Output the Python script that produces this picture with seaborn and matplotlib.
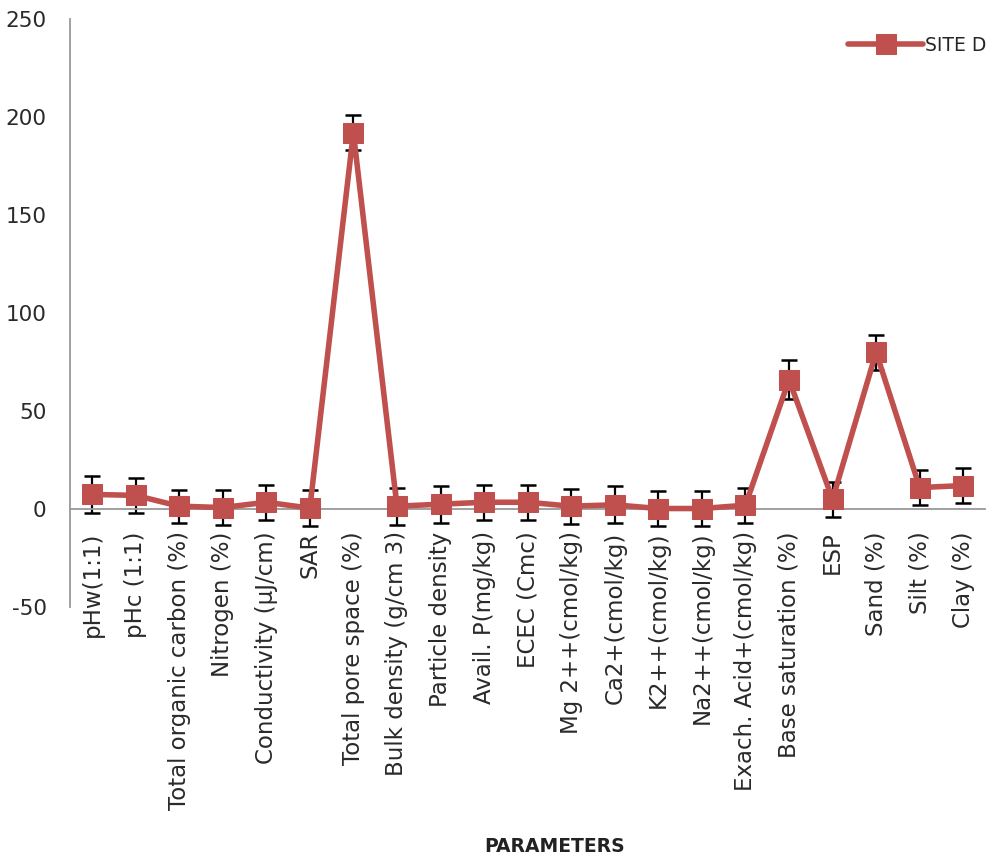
import matplotlib
matplotlib.use("Agg")
import matplotlib.pyplot as plt
import seaborn as sns
import numpy as np
import pandas as pd
from matplotlib.ticker import FixedLocator, MultipleLocator

parameters = [
    "pHw(1:1)", "pHc (1:1)", "Total organic carbon (%)", "Nitrogen (%)",
    "Conductivity (µJ/cm)", "SAR", "Total pore space (%)", "Bulk density (g/cm 3)",
    "Particle density", "Avail. P(mg/kg)", "ECEC (Cmc)", "Mg 2++(cmol/kg)",
    "Ca2+(cmol/kg)", "K2++(cmol/kg)", "Na2++(cmol/kg)", "Exach. Acid+(cmol/kg)",
    "Base saturation (%)", "ESP", "Sand (%)", "Silt (%)", "Clay (%)",
]
site_d = [7.5, 7.0, 1.5, 0.8, 3.5, 0.5, 192.0, 1.5, 2.5, 3.5, 3.5, 1.5,
          2.2, 0.3, 0.3, 2.0, 66.0, 5.0, 80.0, 11.0, 12.0]
site_d_err = [9.5, 9.0, 8.5, 9.0, 9.0, 9.0, 9.0, 9.5, 9.5, 9.0, 9.0, 9.0,
              9.5, 9.0, 9.0, 9.0, 10.0, 9.0, 9.0, 9.0, 9.0]

sns.set_style("white")
plt.rcParams["font.family"] = ["DejaVu Sans"]
plt.rcParams["axes.unicode_minus"] = False

df = pd.DataFrame({"pos": np.arange(len(parameters)), "value": site_d,
                   "err": site_d_err})

fig = plt.figure(figsize=(9.89, 8.6), dpi=100)
ax = fig.add_axes([0.071, 0.294, 0.925, 0.684])

red = "#C0504D"
ax.errorbar(df["pos"], df["value"], yerr=df["err"], fmt="none",
            ecolor="black", elinewidth=1.6, capsize=5.5, capthick=1.8, zorder=2)
sns.lineplot(data=df, x="pos", y="value", ax=ax, color=red, linewidth=4,
             marker="s", markersize=14, markeredgecolor=red,
             label="SITE D", zorder=3)

ax.set_xlim(-0.5, len(parameters) - 0.5)
ax.set_ylim(-50, 250)
ax.yaxis.set_major_locator(MultipleLocator(50))

for s in ["top", "right"]:
    ax.spines[s].set_visible(False)
ax.spines["bottom"].set_position(("data", 0))
for s in ["left", "bottom"]:
    ax.spines[s].set_color("#999999")
    ax.spines[s].set_linewidth(1.3)

ax.set_xticks(df["pos"])
ax.set_xticklabels(parameters, rotation=90, fontsize=16.5, color="#2a2a2a")
ax.xaxis.set_minor_locator(FixedLocator(np.arange(-0.5, len(parameters), 1.0)))
ax.tick_params(axis="x", which="major", length=0, pad=16)
ax.tick_params(axis="x", which="minor", length=7, width=1.3, color="#999999",
               direction="out")
ax.tick_params(axis="y", which="major", length=7, width=1.3, color="#999999",
               direction="out", labelsize=15.5, labelcolor="#2a2a2a", pad=10)
ax.set_xlabel("")
ax.set_ylabel("")

leg = ax.legend(loc="upper right", frameon=False, fontsize=13.5,
                handlelength=4.0, handletextpad=0.1,
                bbox_to_anchor=(1.02, 1.0))

fig.text(0.561, 0.016, "PARAMETERS", ha="center", va="center",
         fontsize=13.5, fontweight="bold", color="#222222")

fig.savefig("out.png", dpi=100)
